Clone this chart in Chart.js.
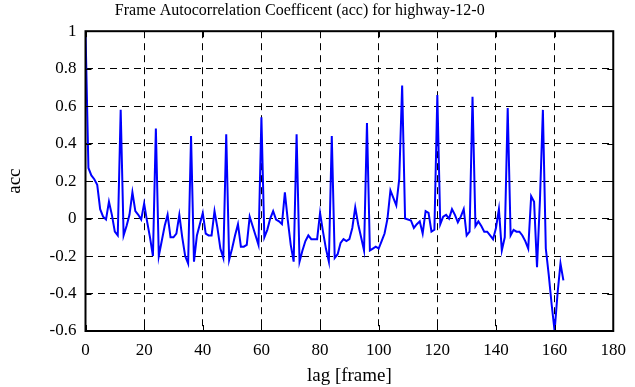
<!DOCTYPE html>
<html>
<head>
<meta charset="utf-8">
<script src="https://cdn.jsdelivr.net/npm/chart.js@4.4.1/dist/chart.umd.min.js"></script>
<style>
  html, body { margin: 0; padding: 0; background: #fff; }
  #wrap { width: 635px; height: 387px; }
</style>
</head>
<body>
<div id="wrap"><canvas id="c" width="635" height="387"></canvas></div>
<script>
// ---- data ----
const titleText = "Frame Autocorrelation Coefficent (acc) for highway-12-0";
const xLabel = "lag [frame]";
const yLabel = "acc";
const xTicks = [0, 20, 40, 60, 80, 100, 120, 140, 160, 180];
const yTicks = [-0.6, -0.4, -0.2, 0, 0.2, 0.4, 0.6, 0.8, 1];
const acc = [
  1.0, 0.27, 0.23, 0.21, 0.18, 0.05, 0.01, -0.005, 0.09, 0.02,
  -0.07, -0.09, 0.58, -0.09, -0.04, 0.02, 0.14, 0.04, 0.02, -0.005,
  0.08, -0.015, -0.1, -0.2, 0.48, -0.2, -0.12, -0.04, 0.02, -0.1,
  -0.1, -0.08, 0.02, -0.1, -0.2, -0.24, 0.44, -0.23, -0.09, -0.03,
  0.03, -0.08, -0.09, -0.09, 0.04, -0.05, -0.16, -0.21, 0.45, -0.22,
  -0.16, -0.09, -0.03, -0.15, -0.15, -0.14, 0.01, -0.04, -0.09, -0.14,
  0.54, -0.1, -0.06, 0.0, 0.04, -0.005, -0.015, -0.03, 0.14, -0.01,
  -0.14, -0.23, 0.45, -0.23, -0.17, -0.12, -0.09, -0.11, -0.11, -0.11,
  0.03, -0.07, -0.16, -0.23, 0.44, -0.21, -0.19, -0.13, -0.11, -0.12,
  -0.11, -0.05, 0.06, -0.03, -0.1, -0.17, 0.51, -0.17, -0.16, -0.15,
  -0.16, -0.12, -0.08, 0.0, 0.15, 0.11, 0.07, 0.21, 0.71, 0.0,
  -0.005, -0.01, -0.05, -0.03, -0.015, -0.08, 0.04, 0.03, -0.07, -0.06,
  0.66, -0.03, 0.01, 0.02, 0.0, 0.05, 0.02, -0.02, 0.01, 0.05,
  -0.09, -0.07, 0.65, -0.04, -0.015, -0.04, -0.07, -0.07, -0.09, -0.11,
  -0.05, 0.05, -0.17, -0.1, 0.59, -0.09, -0.06, -0.07, -0.07, -0.09,
  -0.12, -0.16, 0.12, 0.09, -0.26, 0.1, 0.58, -0.16, -0.3, -0.46,
  -0.6, -0.4, -0.24, -0.33
];
const lags = acc.map((_, i) => i);

// ---- chart ----
const FONT = "'Liberation Serif', 'Times New Roman', serif";
const points = lags.map((l, i) => ({ x: l, y: acc[i] }));

const frame = {
  id: 'frame',
  afterDraw(chart) {
    const { ctx, chartArea: a, scales: { x, y } } = chart;
    ctx.save();
    ctx.strokeStyle = '#000';
    ctx.lineWidth = 1;
    ctx.setLineDash([]);
    const tl = 6;
    xTicks.forEach(v => {
      const px = Math.round(x.getPixelForValue(v)) + 0.5;
      ctx.beginPath();
      ctx.moveTo(px, a.bottom); ctx.lineTo(px, a.bottom - tl);
      ctx.moveTo(px, a.top); ctx.lineTo(px, a.top + tl);
      ctx.stroke();
    });
    yTicks.forEach(v => {
      const py = Math.round(y.getPixelForValue(v)) + 0.5;
      ctx.beginPath();
      ctx.moveTo(a.left, py); ctx.lineTo(a.left + tl, py);
      ctx.moveTo(a.right, py); ctx.lineTo(a.right - tl, py);
      ctx.stroke();
    });
    ctx.lineWidth = 2;
    ctx.strokeRect(a.left, a.top, a.right - a.left, a.bottom - a.top);
    ctx.restore();
  }
};

new Chart(document.getElementById('c'), {
  type: 'line',
  data: {
    datasets: [{
      data: points,
      borderColor: '#0000ff',
      borderWidth: 2,
      pointRadius: 0,
      tension: 0,
      fill: false
    }]
  },
  options: {
    responsive: false,
    animation: false,
    devicePixelRatio: 1,
    layout: { padding: { left: -14, right: 21.5, top: 0, bottom: 0 } },
    plugins: {
      legend: { display: false },
      tooltip: { enabled: false },
      title: {
        display: true,
        text: titleText,
        color: '#000',
        font: { family: FONT, size: 16, weight: 'normal', lineHeight: 1.2 },
        padding: { top: 1, bottom: 11 }
      }
    },
    scales: {
      x: {
        type: 'linear',
        min: 0, max: 180,
        afterBuildTicks(s) { s.ticks = xTicks.map(v => ({ value: v })); },
        afterFit(s) { s.height = 56; },
        ticks: { color: '#000', font: { family: FONT, size: 17 }, padding: 9, maxRotation: 0 },
        grid: { color: '#000', lineWidth: 1, drawTicks: false },
        border: { display: false, dash: [7, 5] },
        title: {
          display: true, text: xLabel, color: '#000',
          font: { family: FONT, size: 19, lineHeight: 1.2 },
          padding: { top: 0, bottom: 0 }
        }
      },
      y: {
        type: 'linear',
        min: -0.6, max: 1,
        afterBuildTicks(s) { s.ticks = yTicks.map(v => ({ value: v })); },
        afterFit(s) { s.width = 99.5; },
        ticks: {
          color: '#000', font: { family: FONT, size: 17 }, padding: 9,
          callback: v => String(Math.round(v * 10) / 10)
        },
        grid: { color: '#000', lineWidth: 1, drawTicks: false },
        border: { display: false, dash: [7, 5] },
        title: {
          display: true, text: yLabel, color: '#000',
          font: { family: FONT, size: 19, lineHeight: 1.2 },
          padding: { top: 17.6, bottom: 0 }
        }
      }
    }
  },
  plugins: [frame]
});
</script>
</body>
</html>
